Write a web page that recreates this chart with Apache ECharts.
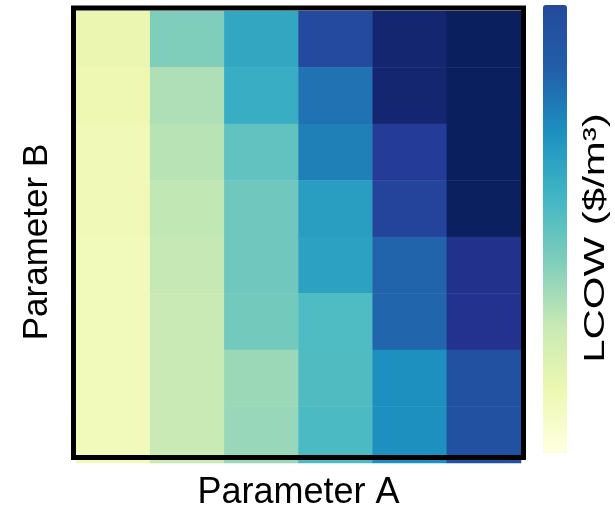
<!DOCTYPE html>
<html>
<head>
<meta charset="utf-8">
<script src="https://cdn.jsdelivr.net/npm/echarts@6/dist/echarts.min.js"></script>
<style>html,body{margin:0;padding:0;background:#fff;}#chart{width:615px;height:509px;}</style>
</head>
<body>
<div id="chart"></div>
<script>
// Parameter A categories (columns, left to right)
const paramA = ['A1', 'A2', 'A3', 'A4', 'A5', 'A6'];
// Parameter B categories (rows, top to bottom)
const paramB = ['B8', 'B7', 'B6', 'B5', 'B4', 'B3', 'B2', 'B1'];
// Normalised LCOW values, one array per row (top to bottom)
const rowB8 = [0.13, 0.375, 0.55, 0.81, 0.953, 0.99];
const rowB7 = [0.12, 0.294, 0.53, 0.70, 0.953, 0.99];
const rowB6 = [0.104, 0.276, 0.434, 0.667, 0.851, 0.99];
const rowB5 = [0.10, 0.26, 0.407, 0.58, 0.828, 0.985];
const rowB4 = [0.098, 0.253, 0.407, 0.572, 0.735, 0.892];
const rowB3 = [0.097, 0.243, 0.397, 0.471, 0.73, 0.888];
const rowB2 = [0.095, 0.243, 0.326, 0.47, 0.627, 0.789];
const rowB1 = [0.095, 0.243, 0.331, 0.48, 0.627, 0.789];
const rows = [rowB8, rowB7, rowB6, rowB5, rowB4, rowB3, rowB2, rowB1];

const ylgnbu = ['#ffffd9', '#edf8b1', '#c7e9b4', '#7fcdbb', '#41b6c4', '#1d91c0', '#225ea8', '#253494', '#081d58'];
const barColors = ['#ffffe0', '#edf8b1', '#c7e9b4', '#7fcdbb', '#41b6c4', '#1d91c0', '#225ea8', '#24499b'];

const data = [];
rows.forEach((row, r) => row.forEach((v, c) => data.push([c, r, v])));

const chart = echarts.init(document.getElementById('chart'), null, {renderer: 'canvas'});
chart.setOption({
  backgroundColor: '#fff',
  animation: false,
  grid: {left: 76, top: 11, width: 445, height: 452, show: false, outerBoundsMode: 'none', containLabel: false},
  xAxis: {
    type: 'category', data: paramA,
    axisLine: {show: false}, axisTick: {show: false}, axisLabel: {show: false}, splitLine: {show: false},
    name: 'Parameter A', nameLocation: 'middle', nameGap: 12,
    nameTextStyle: {fontFamily: 'Liberation Sans, Arial, sans-serif', fontSize: 36, color: '#000'}
  },
  yAxis: {
    type: 'category', data: paramB, inverse: true,
    axisLine: {show: false}, axisTick: {show: false}, axisLabel: {show: false}, splitLine: {show: false},
    name: 'Parameter B', nameLocation: 'middle', nameGap: 21,
    nameTextStyle: {fontFamily: 'Liberation Sans, Arial, sans-serif', fontSize: 35, color: '#000', padding: [0, 10, 0, 0]}
  },
  visualMap: [
    {
      type: 'continuous', show: false, seriesIndex: 0, min: 0, max: 1,
      inRange: {color: ylgnbu}
    },
    {
      type: 'continuous', show: true, seriesIndex: [], min: 0, max: 1,
      calculable: false, showLabel: false, padding: 0,
      left: 543, top: 5, itemWidth: 24, itemHeight: 448,
      inRange: {color: barColors}, hoverLink: false
    }
  ],
  graphic: [
    {
      type: 'rect', z: 100, silent: true,
      shape: {x: 73.5, y: 8, width: 450, height: 449.5},
      style: {fill: 'none', stroke: '#000', lineWidth: 5}
    },
    {
      type: 'text', x: 596, y: 238, rotation: Math.PI / 2, scaleX: 1.4,
      style: {text: 'LCOW ($/m³)', fontFamily: 'Liberation Sans, Arial, sans-serif', fontSize: 30, fill: '#000', align: 'center', verticalAlign: 'middle'}
    }
  ],
  series: [{
    type: 'heatmap', data: data,
    itemStyle: {borderWidth: 0},
    emphasis: {disabled: true}
  }]
});
</script>
</body>
</html>
